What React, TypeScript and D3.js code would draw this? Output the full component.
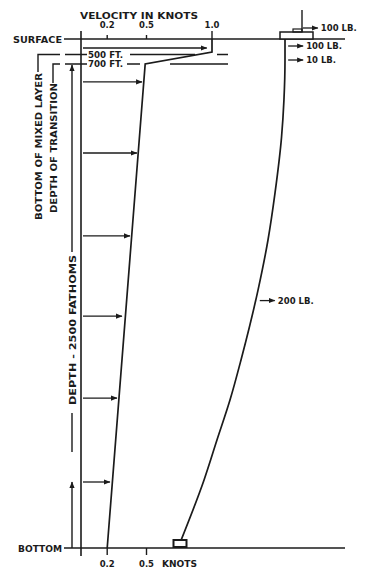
import React from "react";
import * as d3 from "d3";

const W = 365;
const H = 573;

// velocity profile: depth in feet against current speed in knots
const profileDepth = [0, 420, 700, 15000];
const profileKnots = [1.0, 1.0, 0.49, 0.2];

// current arrows drawn out from the depth axis
const arrowDepth = [290, 1230, 3330, 5780, 8150, 10570, 13050];
const arrowKnots = [0.96, 0.466, 0.427, 0.374, 0.313, 0.275, 0.221];

const topTicks = [0.2, 0.5, 1.0];
const topTickLabels = ["0.2", "0.5", "1.0"];
const bottomTicks = [0.2, 0.5];
const bottomTickLabels = ["0.2", "0.5"];

// mooring cable: depth in feet against drift from the anchor (arbitrary units)
const cableDepth = [0, 616, 1760, 2860, 4510, 5900, 7380, 9445, 10630, 11810, 12990, 14850];
const cableDrift = [100, 100, 99, 96.7, 90.5, 83.8, 74.3, 58.1, 47.6, 35.2, 22.9, 0];

// drag on the cable
const forceLabels = ["100 LB.", "100 LB.", "10 LB.", "200 LB."];
const forceDepth = [-355, 226, 616, 7690];
const forceDrift = [117, 103, 103, 76];

const ink = "#1b1b1b";
const font = "'DejaVu Sans', Verdana, sans-serif";

export default function App() {
  // the depth axis is not to scale: the top 700 ft are stretched
  const y = d3.scaleLinear().domain([0, 500, 700, 15000]).range([39, 54.5, 64, 548]);
  const x = d3.scaleLinear().domain([0, 1]).range([81, 212]);
  const drift = d3.scaleLinear().domain([0, 100]).range([180, 285]);

  const profile = d3
    .line<number>()
    .x((_, i) => x(profileKnots[i]))
    .y((d) => y(d))(profileDepth);

  const cable = d3
    .line<number>()
    .x((_, i) => drift(cableDrift[i]))
    .y((d) => y(d))
    .curve(d3.curveMonotoneY)(cableDepth);

  const surfY = y(0);
  const botY = y(15000);
  const floatX = drift(100) - 5;
  const anchorX = drift(0);

  const txt = {
    fontFamily: font,
    fontWeight: 700,
    fontSize: 8.5,
    fill: ink,
  } as const;

  return (
    <svg
      width={W}
      height={H}
      style={{ position: "absolute", left: 0, top: 0, background: "#fff" }}
    >
      <defs>
        <marker
          id="ah"
          markerUnits="userSpaceOnUse"
          markerWidth={7}
          markerHeight={6}
          refX={6}
          refY={3}
          orient="auto"
        >
          <path d="M0,0.4 L6.5,3 L0,5.6 Z" fill={ink} />
        </marker>
      </defs>

      <g stroke={ink} fill="none" strokeWidth={1.4}>
        {/* surface and bottom */}
        <line x1={64} x2={345} y1={surfY} y2={surfY} strokeWidth={1.6} />
        <line x1={64} x2={345} y1={botY} y2={botY} strokeWidth={1.6} />
        {/* velocity axis */}
        <line x1={x(0)} x2={x(0)} y1={31} y2={556} strokeWidth={1.6} />
        {topTicks.map((t) => (
          <line key={t} x1={x(t)} x2={x(t)} y1={t === 1 ? 31 : 35} y2={surfY} />
        ))}
        {bottomTicks.map((t) => (
          <line key={t} x1={x(t)} x2={x(t)} y1={botY} y2={botY + 7} />
        ))}

        {/* 500 ft and 700 ft marks */}
        <path d={`M38,72 V${y(500)} H60 M65,${y(500)} H87 M130,${y(500)} H195 M217,${y(500)} H228`} />
        <path d={`M53,83 V${y(700)} H60 M65,${y(700)} H87 M127,${y(700)} H140 M170,${y(700)} H228`} />

        {/* depth dimension line */}
        <line x1={72} x2={72} y1={252} y2={y(700) + 1} markerEnd="url(#ah)" />
        <line x1={72} x2={72} y1={413} y2={452} />
        <line x1={72} x2={72} y1={botY} y2={482} markerEnd="url(#ah)" />

        {/* current arrows */}
        {arrowDepth.map((d, i) => (
          <line
            key={d}
            x1={x(0) + 2}
            x2={x(arrowKnots[i])}
            y1={y(d)}
            y2={y(d)}
            strokeWidth={1.3}
            markerEnd="url(#ah)"
          />
        ))}

        {/* velocity profile */}
        <path d={profile ?? ""} strokeWidth={1.7} />

        {/* mooring cable */}
        <path d={cable ?? ""} strokeWidth={1.7} />

        {/* float with mast */}
        <rect x={floatX} y={surfY - 7} width={33} height={7} fill="#fff" strokeWidth={1.5} />
        <rect x={floatX + 13} y={surfY - 10} width={9} height={3} strokeWidth={1.2} />
        <line x1={floatX + 22} x2={floatX + 22} y1={10} y2={surfY - 7} />

        {/* anchor */}
        <rect x={anchorX - 6.5} y={botY - 8} width={13} height={7} fill="#fff" strokeWidth={2} />

        {/* drag arrows */}
        {forceDepth.map((d, i) => (
          <line
            key={i}
            x1={drift(forceDrift[i])}
            x2={drift(forceDrift[i]) + 15}
            y1={y(d)}
            y2={y(d)}
            strokeWidth={1.3}
            markerEnd="url(#ah)"
          />
        ))}
      </g>

      <g {...txt}>
        <text x={80} y={18.5} textLength={118} lengthAdjust="spacingAndGlyphs">
          VELOCITY IN KNOTS
        </text>
        {topTicks.map((t, i) => (
          <text key={t} x={x(t)} y={28} textAnchor="middle">
            {topTickLabels[i]}
          </text>
        ))}
        {bottomTicks.map((t, i) => (
          <text key={t} x={x(t)} y={566.5} textAnchor="middle">
            {bottomTickLabels[i]}
          </text>
        ))}
        <text x={162} y={566.5} textLength={35} lengthAdjust="spacingAndGlyphs">
          KNOTS
        </text>
        <text x={13} y={surfY + 4} textLength={49} lengthAdjust="spacingAndGlyphs">
          SURFACE
        </text>
        <text x={18} y={botY + 3.5} textLength={44} lengthAdjust="spacingAndGlyphs">
          BOTTOM
        </text>
        <text x={88} y={y(500) + 3} textLength={35} lengthAdjust="spacingAndGlyphs">
          500 FT.
        </text>
        <text x={88} y={y(700) + 3} textLength={35} lengthAdjust="spacingAndGlyphs">
          700 FT.
        </text>

        <text
          transform="translate(41.5,146.5) rotate(-90)"
          textAnchor="middle"
          textLength={147}
          lengthAdjust="spacingAndGlyphs"
        >
          BOTTOM OF MIXED LAYER
        </text>
        <text
          transform="translate(56.5,148) rotate(-90)"
          textAnchor="middle"
          textLength={130}
          lengthAdjust="spacingAndGlyphs"
        >
          DEPTH OF TRANSITION
        </text>
        <text
          transform="translate(75.5,330) rotate(-90)"
          textAnchor="middle"
          textLength={150}
          lengthAdjust="spacingAndGlyphs"
        >
          DEPTH - 2500 FATHOMS
        </text>

        {forceDepth.map((d, i) => (
          <text key={i} x={drift(forceDrift[i]) + 18} y={y(d) + 3}>
            {forceLabels[i]}
          </text>
        ))}
      </g>
    </svg>
  );
}
